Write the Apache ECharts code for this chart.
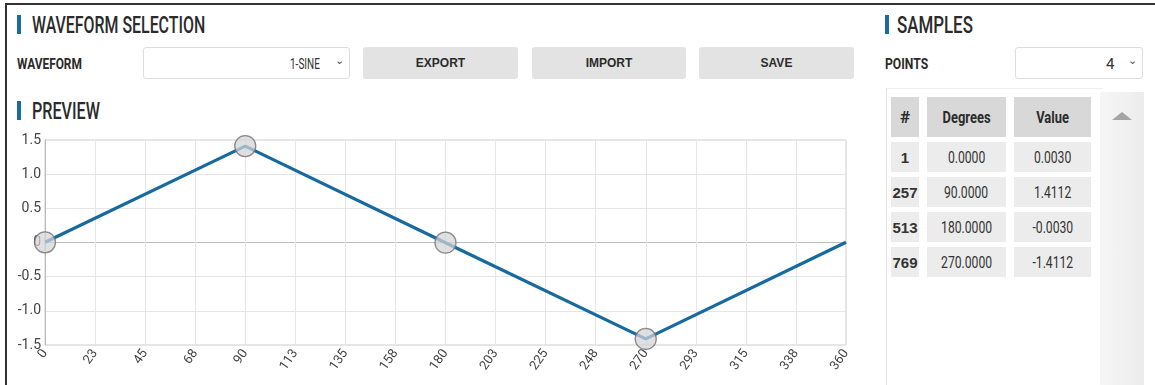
<!DOCTYPE html>
<html>
<head>
<meta charset="utf-8">
<script src="https://cdn.jsdelivr.net/npm/echarts@6/dist/echarts.min.js"></script>
<style>
  html, body { margin: 0; padding: 0; background: #fff; }
  body { width: 1155px; height: 385px; position: relative; overflow: hidden;
         font-family: Roboto, "DejaVu Sans", sans-serif; color: #333; }
  .frame { position: absolute; left: 5px; top: 3px; width: 1150px; height: 382px;
           border-top: 2px solid #333; border-left: 2px solid #333; box-sizing: border-box; }
  .abs { position: absolute; }
  .fit { display: inline-block; white-space: nowrap; transform-origin: left center; }
  .head { font-size: 24px; color: #2b2b2b; line-height: 24px; font-weight: 500; }
  .bar { position: absolute; width: 4px; height: 19px; background: #1a6c9c; }
  .lbl { font-size: 15px; font-weight: bold; color: #2b2b2b; }
  .sel { border: 1px solid #ddd; border-radius: 3px; box-sizing: border-box; background: #fff; }
  .sel .txt { position: absolute; top: 7px; font-size: 15px; color: #333; }
  .sel .chev { position: absolute; top: 6px; font-size: 11px; color: #555; }
  .btn { background: #e3e3e3; border-radius: 3px; box-sizing: border-box; text-align: center;
         font-family: "Liberation Sans", Arial, sans-serif; font-weight: bold; font-size: 12px; line-height: 32px; color: #2b2b2b; }
  table { border-collapse: separate; border-spacing: 8px 5px; }
  td { background: #ececec; text-align: center; font-size: 16px; color: #333; height: 30px; padding: 0; }
  th { background: #d8d8d8; font-size: 17px; font-weight: bold; height: 40px; color: #2b2b2b; padding: 0; }
  td .fit, th .fit { transform-origin: center center; }
  td.n { font-family: "Liberation Sans", Arial, sans-serif; font-weight: bold; font-size: 15px; }
</style>
</head>
<body>
<div class="frame"></div>

<div class="bar" style="left:17px; top:15px;"></div>
<div class="abs head" style="left:32px; top:13px;"><span class="fit" data-w="173">WAVEFORM SELECTION</span></div>
<div class="abs lbl" style="left:17px; top:55px;"><span class="fit" data-w="65">WAVEFORM</span></div>
<div class="abs sel" style="left:143px; top:47px; width:207px; height:32px;">
  <span class="txt" style="left:146px;"><span class="fit" data-w="30">1-SINE</span></span>
  <span class="chev" style="left:191px;">&#8964;</span>
</div>
<div class="abs btn" style="left:363px; top:47px; width:155px; height:32px;">EXPORT</div>
<div class="abs btn" style="left:532px; top:47px; width:154px; height:32px;">IMPORT</div>
<div class="abs btn" style="left:699px; top:47px; width:155px; height:32px;">SAVE</div>

<div class="bar" style="left:17px; top:101px;"></div>
<div class="abs head" style="left:32px; top:99px;"><span class="fit" data-w="68">PREVIEW</span></div>

<div class="bar" style="left:885px; top:15px;"></div>
<div class="abs head" style="left:897px; top:13px;"><span class="fit" data-w="76">SAMPLES</span></div>
<div class="abs lbl" style="left:885px; top:55px;"><span class="fit" data-w="43">POINTS</span></div>
<div class="abs sel" style="left:1015px; top:47px; width:128px; height:32px;">
  <span class="txt" style="left:90px;">4</span>
  <span class="chev" style="left:112px;">&#8964;</span>
</div>

<div class="abs" style="left:886px; top:88px; width:216px; height:297px; border-left:1px solid #e4e4e4; border-top:1px solid #eee;"></div>
<div class="abs" style="left:1100px; top:92px; width:44px; height:293px; background:linear-gradient(to right,#f6f6f6,#ececec);"></div>
<div class="abs" style="left:1112px; top:112px; width:0; height:0; border-left:10px solid transparent; border-right:10px solid transparent; border-bottom:8px solid #a5a5a5;"></div>
<div class="abs" style="left:883px; top:92px;">
  <table id="tbl"></table>
</div>

<div id="chart" class="abs" style="left:0; top:125px; width:860px; height:260px;"></div>

<script>
// sample table, as shown in the panel
const sampleIndex = [1, 257, 513, 769];
const sampleDegrees = [0, 90, 180, 270];
const sampleValues = [0.0030, 1.4112, -0.0030, -1.4112];

// axis ticks
const xMin = 0, xMax = 360, xStep = 22.5;
const yMin = -1.5, yMax = 1.5, yStep = 0.5;

const tbl = document.getElementById('tbl');
const cond = s => '<span class="fit" data-s="0.76">' + s + '</span>';
let html = '<tr><th style="width:28px">#</th><th style="width:79px">' + cond('Degrees') +
           '</th><th style="width:77px">' + cond('Value') + '</th></tr>';
sampleIndex.forEach((n, i) => {
  html += '<tr><td class="n">' + n + '</td><td>' + cond(sampleDegrees[i].toFixed(4)) +
          '</td><td>' + cond(sampleValues[i].toFixed(4)) + '</td></tr>';
});
tbl.innerHTML = html;

// squeeze text to look like the condensed face of the original
document.querySelectorAll('.fit').forEach(el => {
  let s = el.dataset.s ? +el.dataset.s : (+el.dataset.w / el.offsetWidth);
  el.style.transform = 'scaleX(' + s + ')';
});

// the waveform closes at 360 with the first sample
const lineData = sampleDegrees.map((d, i) => [d, sampleValues[i]]);
lineData.push([xMax, sampleValues[0]]);

const font = 'Roboto, "DejaVu Sans", sans-serif';
const chart = echarts.init(document.getElementById('chart'));
chart.setOption({
  animation: false,
  grid: { left: 45, right: 14, top: 15, bottom: 40, show: true, borderColor: '#ccc', borderWidth: 1 },
  xAxis: {
    type: 'value', min: xMin, max: xMax, interval: xStep,
    axisLine: { show: false },
    axisTick: { show: false },
    splitLine: { lineStyle: { color: '#e6e6e6' } },
    axisLabel: {
      rotate: 55, margin: 6, color: '#444', fontSize: 13, fontFamily: font,
      formatter: v => String(Math.round(v))
    }
  },
  yAxis: {
    type: 'value', min: yMin, max: yMax, interval: yStep,
    axisLine: { onZero: false, show: true, lineStyle: { color: '#bbb' } },
    axisTick: { show: false },
    splitLine: { lineStyle: { color: ['#e6e6e6', '#e6e6e6', '#e6e6e6', '#bdbdbd', '#e6e6e6', '#e6e6e6', '#e6e6e6'] } },
    axisLabel: {
      margin: 4, color: '#444', fontSize: 14, fontFamily: font,
      formatter: v => v === 0 ? '0' : v.toFixed(1)
    }
  },
  series: [
    {
      type: 'line', data: lineData, showSymbol: false,
      lineStyle: { color: '#176a9e', width: 3.2 }, z: 2
    },
    {
      type: 'scatter', data: lineData.slice(0, sampleDegrees.length),
      symbolSize: 21, z: 3,
      itemStyle: { color: 'rgba(212,212,216,0.9)', borderColor: '#707070', borderWidth: 1.3 }
    }
  ]
});
</script>
</body>
</html>
